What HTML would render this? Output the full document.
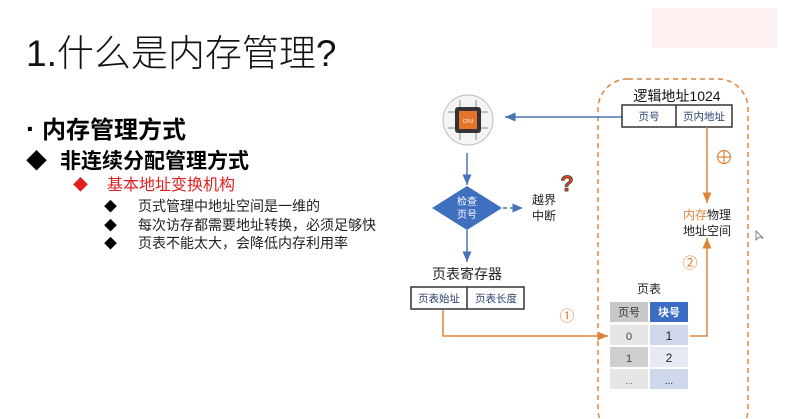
<!DOCTYPE html>
<html><head><meta charset="utf-8"><style>
body{margin:0;width:796px;height:419px;background:#fff;overflow:hidden;position:relative;font-family:"Liberation Sans","Noto Sans CJK SC",sans-serif;}
.a{position:absolute;white-space:nowrap;line-height:1;}
</style></head><body>
<div class="a" style="left:652px;top:8px;width:125px;height:40px;background:#fdf0f1;"></div>
<div class="a" style="left:26px;top:35px;font-size:37px;font-weight:300;color:#111;">1.什么是内存管理?</div>
<div class="a" style="left:26px;top:115px;font-size:24px;font-weight:bold;"><span style="font-size:28px">·</span> 内存管理方式</div>
<div class="a" style="left:26px;top:151px;font-size:21px;font-weight:bold;">◆</div>
<div class="a" style="left:60px;top:151px;font-size:21px;font-weight:bold;">非连续分配管理方式</div>
<div class="a" style="left:73px;top:178px;font-size:15px;color:#e02020;">◆</div>
<div class="a" style="left:107px;top:178px;font-size:16px;color:#e02020;">基本地址变换机构</div>
<div class="a" style="left:104px;top:200px;font-size:13px;">◆</div>
<div class="a" style="left:138px;top:199px;font-size:14px;color:#222;">页式管理中地址空间是一维的</div>
<div class="a" style="left:104px;top:219px;font-size:13px;">◆</div>
<div class="a" style="left:138px;top:218px;font-size:14px;color:#222;">每次访存都需要地址转换，必须足够快</div>
<div class="a" style="left:104px;top:237px;font-size:13px;">◆</div>
<div class="a" style="left:138px;top:236px;font-size:14px;color:#222;">页表不能太大，会降低内存利用率</div>

<svg class="a" style="left:0;top:0" width="796" height="419">
<defs>
<marker id="b" markerWidth="8" markerHeight="8" refX="7" refY="4" orient="auto"><path d="M0,1 L7,4 L0,7z" fill="#4a72b8"/></marker>
<marker id="o" markerWidth="8" markerHeight="8" refX="7" refY="4" orient="auto"><path d="M0,1 L7,4 L0,7z" fill="#e0843a"/></marker>
</defs>
<rect x="598" y="79" width="150" height="360" rx="30" fill="none" stroke="#e0843a" stroke-width="1.5" stroke-dasharray="5,4"/>
<circle cx="468" cy="120" r="25" fill="#f4f4f4" stroke="#bbb"/>
<g stroke="#888" stroke-width="1">
<line x1="448" y1="112" x2="488" y2="112"/><line x1="448" y1="128" x2="488" y2="128"/>
<line x1="460" y1="100" x2="460" y2="140"/><line x1="476" y1="100" x2="476" y2="140"/>
</g>
<rect x="455" y="107" width="26" height="26" rx="3" fill="#333"/>
<rect x="459" y="111" width="18" height="18" fill="#e8732a"/>
<text x="468" y="123" font-size="5" fill="#fff" text-anchor="middle">CPU</text>
<line x1="622" y1="117" x2="505" y2="117" stroke="#4a72b8" stroke-width="1.5" marker-end="url(#b)"/>
<line x1="467" y1="153" x2="467" y2="185" stroke="#4a72b8" stroke-width="1.5" marker-end="url(#b)"/>
<polygon points="467,186 502,208 467,230 432,208" fill="#3f6fbf"/>
<text x="467" y="205" font-size="10" fill="#fff" text-anchor="middle">检查</text>
<text x="467" y="218" font-size="10" fill="#fff" text-anchor="middle">页号</text>
<line x1="503" y1="208" x2="523" y2="208" stroke="#4a72b8" stroke-width="1.5" stroke-dasharray="4,3" marker-end="url(#b)"/>
<text x="532" y="204" font-size="12" fill="#222">越界</text>
<text x="532" y="220" font-size="12" fill="#222">中断</text>
<text x="567" y="191" font-size="22" font-weight="bold" fill="#d84a1a" text-anchor="middle" stroke="#333" stroke-width="0.7">?</text>
<line x1="467" y1="230" x2="467" y2="262" stroke="#4a72b8" stroke-width="1.5" marker-end="url(#b)"/>
<text x="467" y="279" font-size="14" fill="#222" text-anchor="middle">页表寄存器</text>
<rect x="411" y="287" width="113" height="22" fill="#fff" stroke="#333" stroke-width="1.5"/>
<line x1="467" y1="287" x2="467" y2="309" stroke="#333" stroke-width="1.5"/>
<text x="439" y="302" font-size="10.5" fill="#2a3f6f" text-anchor="middle">页表始址</text>
<text x="496" y="302" font-size="10.5" fill="#2a3f6f" text-anchor="middle">页表长度</text>
<polyline points="443,310 443,336 608,336" fill="none" stroke="#e0843a" stroke-width="1.5" marker-end="url(#o)"/>
<text x="567" y="321" font-size="15" fill="#e0843a" text-anchor="middle">①</text>
<text x="677" y="101" font-size="14" fill="#111" text-anchor="middle">逻辑地址1024</text>
<rect x="622" y="105" width="110" height="22" fill="#fff" stroke="#333" stroke-width="1.5"/>
<line x1="676" y1="105" x2="676" y2="127" stroke="#333" stroke-width="1.5"/>
<text x="649" y="120" font-size="10.5" fill="#2a3f6f" text-anchor="middle">页号</text>
<text x="704" y="120" font-size="10.5" fill="#2a3f6f" text-anchor="middle">页内地址</text>
<line x1="707" y1="127" x2="707" y2="203" stroke="#e0843a" stroke-width="1.5" marker-end="url(#o)"/>
<circle cx="724" cy="157" r="6.5" fill="none" stroke="#e0843a" stroke-width="1.2"/>
<line x1="717.5" y1="157" x2="730.5" y2="157" stroke="#e0843a" stroke-width="1.2"/>
<line x1="724" y1="150.5" x2="724" y2="163.5" stroke="#e0843a" stroke-width="1.2"/>
<text x="683" y="219" font-size="12"><tspan fill="#e0843a">内存</tspan><tspan fill="#222">物理</tspan></text>
<text x="683" y="235" font-size="12" fill="#222">地址空间</text>
<polyline points="690,336 707,336 707,238" fill="none" stroke="#e0843a" stroke-width="1.5" marker-end="url(#o)"/>
<text x="690" y="268" font-size="15" fill="#e0843a" text-anchor="middle">②</text>
<text x="649" y="293" font-size="12" fill="#222" text-anchor="middle">页表</text>
<rect x="610" y="302" width="38" height="20" fill="#c8c8c8"/>
<rect x="650" y="302" width="38" height="20" fill="#3b6dc4"/>
<text x="629" y="316" font-size="11" fill="#333" text-anchor="middle">页号</text>
<text x="669" y="316" font-size="11" font-weight="bold" fill="#fff" text-anchor="middle">块号</text>
<rect x="610" y="325" width="38" height="20" fill="#e6e6e6"/>
<rect x="650" y="325" width="38" height="20" fill="#cfd7ea"/>
<rect x="610" y="347" width="38" height="20" fill="#cfcfcf"/>
<rect x="650" y="347" width="38" height="20" fill="#e6eaf3"/>
<rect x="610" y="369" width="38" height="20" fill="#e6e6e6"/>
<rect x="650" y="369" width="38" height="20" fill="#cfd7ea"/>
<text x="629" y="340" font-size="11" fill="#444" text-anchor="middle">0</text>
<text x="669" y="340" font-size="12" fill="#222" text-anchor="middle">1</text>
<text x="629" y="362" font-size="11" fill="#444" text-anchor="middle">1</text>
<text x="669" y="362" font-size="12" fill="#222" text-anchor="middle">2</text>
<text x="629" y="384" font-size="9" fill="#666" text-anchor="middle">...</text>
<text x="669" y="384" font-size="10" fill="#222" text-anchor="middle">...</text>
<path d="M756,231 L756,240 L759,237 L763,238 z" fill="#fff" stroke="#666" stroke-width="0.8"/>
</svg>
</body></html>
